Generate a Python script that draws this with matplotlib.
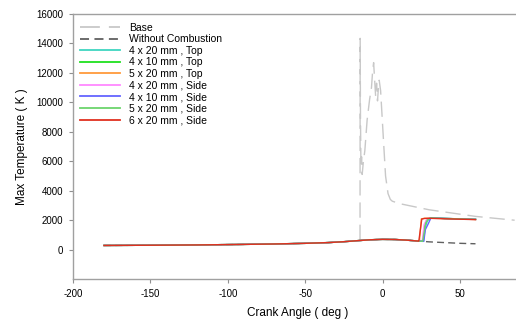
import matplotlib
matplotlib.use("Agg")
import matplotlib.pyplot as plt

plt.rcParams['font.family'] = ['Liberation Sans', 'DejaVu Sans']
plt.rcParams['axes.unicode_minus'] = False

# Shared compression phase (crank angle, max temperature)
pre_angle = [-180, -150, -120, -95, -70, -50, -35, -25, -15, -8, 0, 8, 15, 20]
pre_temp = [275, 290, 310, 340, 375, 420, 470, 530, 610, 660, 690, 680, 640, 600]

# Base case (light gray long dashes)
base_angle = [-14.6, -14.5, -14.3, -14.0, -13.6, -13.2, -12.5, -11.5, -10.0, -8.4, -7.2, -6.4, -5.8,
              -5.2, -4.5, -3.9, -3.3, -2.7, -2.2, -1.3, -0.2, 0.9, 1.9, 3.5, 5.0, 6.3, 11.7, 30, 60, 85.3]
base_temp = [650, 14350, 9000, 5600, 6300, 5100, 5900, 6700, 8800, 10200, 11000, 12200, 12700,
             11600, 10400, 11300, 10100, 11000, 11500, 10800, 8800, 6800, 5000, 3800, 3400, 3280, 3100, 2700, 2250, 1990]

# Without combustion (dark gray dashes)
noc_angle = pre_angle + [25, 30, 40, 50, 60]
noc_temp = pre_temp + [560, 520, 470, 420, 390]

labels = ["4 x 20 mm , Top", "4 x 10 mm , Top", "5 x 20 mm , Top",
          "4 x 20 mm , Side", "4 x 10 mm , Side", "5 x 20 mm , Side", "6 x 20 mm , Side"]
colors = ["#3fd6c0", "#1fe01f", "#ff9a3c", "#ff88ff", "#6464ff", "#6cd46c", "#e03020"]

# post-ignition parts per case
post_angles = [
    [26.0, 26.4, 27.5, 29.0, 31.0, 40, 50, 60],
    [25.5, 26.0, 27.2, 28.5, 30.5, 40, 50, 60],
    [23.2, 23.8, 25.0, 27.0, 30.0, 40, 50, 60],
    [25.0, 25.6, 26.8, 28.5, 30.5, 40, 50, 60],
    [26.2, 26.6, 27.6, 29.5, 31.2, 40, 50, 60],
    [25.4, 25.9, 27.9, 29.0, 30.8, 40, 50, 60],
    [23.0, 23.4, 25.3, 27.0, 30.0, 40, 50, 60],
]
post_temps = [
    [555, 560, 1500, 1950, 2150, 2110, 2080, 2050],
    [560, 565, 1600, 2000, 2150, 2110, 2080, 2050],
    [570, 575, 2080, 2120, 2130, 2100, 2070, 2040],
    [560, 570, 1700, 2050, 2150, 2110, 2080, 2050],
    [552, 560, 1350, 1750, 2150, 2110, 2080, 2050],
    [556, 565, 1810, 2000, 2150, 2110, 2080, 2050],
    [572, 575, 2070, 2110, 2120, 2090, 2060, 2030],
]

x_ticks = [-200, -150, -100, -50, 0, 50]
y_ticks = [0, 2000, 4000, 6000, 8000, 10000, 12000, 14000, 16000]

fig = plt.figure(figsize=(5.16, 3.27), dpi=100)
ax = fig.add_axes([0.1415, 0.147, 0.87, 0.81])

ax.plot(base_angle, base_temp, color="#c8c8c8", lw=1.0, dashes=(11, 5), label="Base")
ax.plot(noc_angle, noc_temp, color="#606060", lw=1.0, dashes=(5, 3), label="Without Combustion")
for lab, col, pa, pt in zip(labels, colors, post_angles, post_temps):
    ax.plot(pre_angle + pa, pre_temp + pt, color=col, lw=1.0, label=lab)

ax.set_xlim(-200, 90)
ax.set_ylim(-2000, 16000)
ax.set_xticks(x_ticks)
ax.set_yticks(y_ticks)
ax.tick_params(direction="out", length=3, width=0.8, color="#909090", labelsize=7, pad=4)
for s in ["left", "bottom", "top"]:
    ax.spines[s].set_color("#a0a0a0")
    ax.spines[s].set_linewidth(1.0)
ax.spines["right"].set_visible(False)

ax.set_xlabel("Crank Angle ( deg )", fontsize=8.5, labelpad=6)
ax.set_ylabel("Max Temperature ( K )", fontsize=8.5, labelpad=6)

leg = ax.legend(loc="upper left", frameon=False, fontsize=7.5, handlelength=3.8,
                handletextpad=0.9, labelspacing=0.15, borderaxespad=0.3,
                bbox_to_anchor=(0.0, 0.995))
for h in leg.get_lines():
    h.set_linewidth(1.3)

fig.savefig("out.png", dpi=100)
